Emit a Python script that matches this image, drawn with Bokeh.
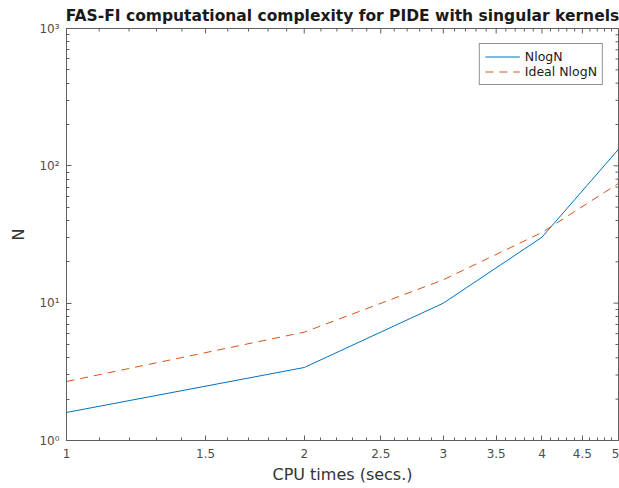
from bokeh.plotting import figure
from bokeh.models import Range1d, FixedTicker, Legend, LegendItem
from bokeh.embed import file_html
from bokeh.resources import INLINE

cpu_times = [1, 2, 3, 4, 5]
n_measured = [1.6, 3.4, 10.0, 30.2, 132.0]
n_ideal = [2.69, 6.15, 14.8, 32.7, 74.5]

x_ticks = [1, 1.5, 2, 2.5, 3, 3.5, 4, 4.5, 5]
x_minor = [round(1 + 0.1 * i, 1) for i in range(1, 40) if round(1 + 0.1 * i, 1) not in x_ticks]
y_ticks = [1, 10, 100, 1000]
y_minor = [m * d for d in (1, 10, 100) for m in range(2, 10)]
y_labels = {1: "10⁰", 10: "10¹", 100: "10²", 1000: "10³"}

X_MIN, X_MAX = 1, 5
Y_MIN, Y_MAX = 1, 1000

FONT = "DejaVu Sans"
AX = "#5f5f5f"
TXT = "#4d4d4d"

p = figure(width=619, height=488, x_axis_type="log", y_axis_type="log",
           x_range=Range1d(X_MIN, X_MAX), y_range=Range1d(Y_MIN, Y_MAX),
           output_backend="svg", toolbar_location=None,
           min_border_left=66, min_border_right=1, min_border_top=28, min_border_bottom=48)

p.title.text = "FAS-FI computational complexity for PIDE with singular kernels"
p.title.text_font = FONT
p.title.text_font_size = "15.5px"
p.title.text_font_style = "bold"
p.title.text_color = "#1a1a1a"
p.title.align = "center"
p.title.offset = 0
p.title.standoff = 7

p.xgrid.visible = False
p.ygrid.visible = False
p.outline_line_color = AX
p.background_fill_color = "white"

r1 = p.line(cpu_times, n_measured, line_color="#0072BD", line_width=1)
r2 = p.line(cpu_times, n_ideal, line_color="#D95319", line_width=1, line_dash="8 6")

# mirrored ticks on the top and right box edges
p.scatter(x=x_ticks, y=[Y_MAX] * len(x_ticks), marker="dash", size=10, angle=1.5708,
          line_color=AX, line_width=1)
p.scatter(x=x_minor, y=[Y_MAX] * len(x_minor), marker="dash", size=6, angle=1.5708,
          line_color=AX, line_width=1)
p.scatter(x=[X_MAX] * len(y_ticks), y=y_ticks, marker="dash", size=10,
          line_color=AX, line_width=1)
p.scatter(x=[X_MAX] * len(y_minor), y=y_minor, marker="dash", size=6,
          line_color=AX, line_width=1)

def style_axis(ax):
    ax.axis_line_color = AX
    ax.major_tick_line_color = AX
    ax.minor_tick_line_color = AX
    ax.major_tick_in = 5
    ax.major_tick_out = 0
    ax.minor_tick_in = 3
    ax.minor_tick_out = 0
    ax.major_label_text_font = FONT
    ax.major_label_text_font_size = "12px"
    ax.major_label_text_color = TXT
    ax.axis_label_text_font = FONT
    ax.axis_label_text_font_size = "16px"
    ax.axis_label_text_font_style = "normal"
    ax.axis_label_text_color = "#333333"

p.xaxis.ticker = FixedTicker(ticks=x_ticks, minor_ticks=x_minor)
p.yaxis.ticker = FixedTicker(ticks=y_ticks, minor_ticks=y_minor)
p.yaxis.major_label_overrides = y_labels
p.xaxis.axis_label = "CPU times (secs.)"
p.yaxis.axis_label = "N"
style_axis(p.xaxis[0])
style_axis(p.yaxis[0])
p.xaxis.major_label_standoff = 8
p.yaxis.major_label_standoff = 7
p.xaxis.axis_label_standoff = 4
p.yaxis.axis_label_standoff = 8

legend = Legend(items=[LegendItem(label="NlogN", renderers=[r1]),
                       LegendItem(label="Ideal NlogN", renderers=[r2])],
                location="top_right")
legend.margin = 15
legend.padding = 5
legend.spacing = 0
legend.glyph_width = 35
legend.glyph_height = 15
legend.label_height = 15
legend.label_standoff = 5
legend.label_text_font = FONT
legend.label_text_font_size = "12.5px"
legend.label_text_color = "#1a1a1a"
legend.border_line_color = "#262626"
legend.border_line_width = 1
legend.background_fill_alpha = 1
p.add_layout(legend, "center")

open("out.html", "w").write(file_html(p, INLINE))
